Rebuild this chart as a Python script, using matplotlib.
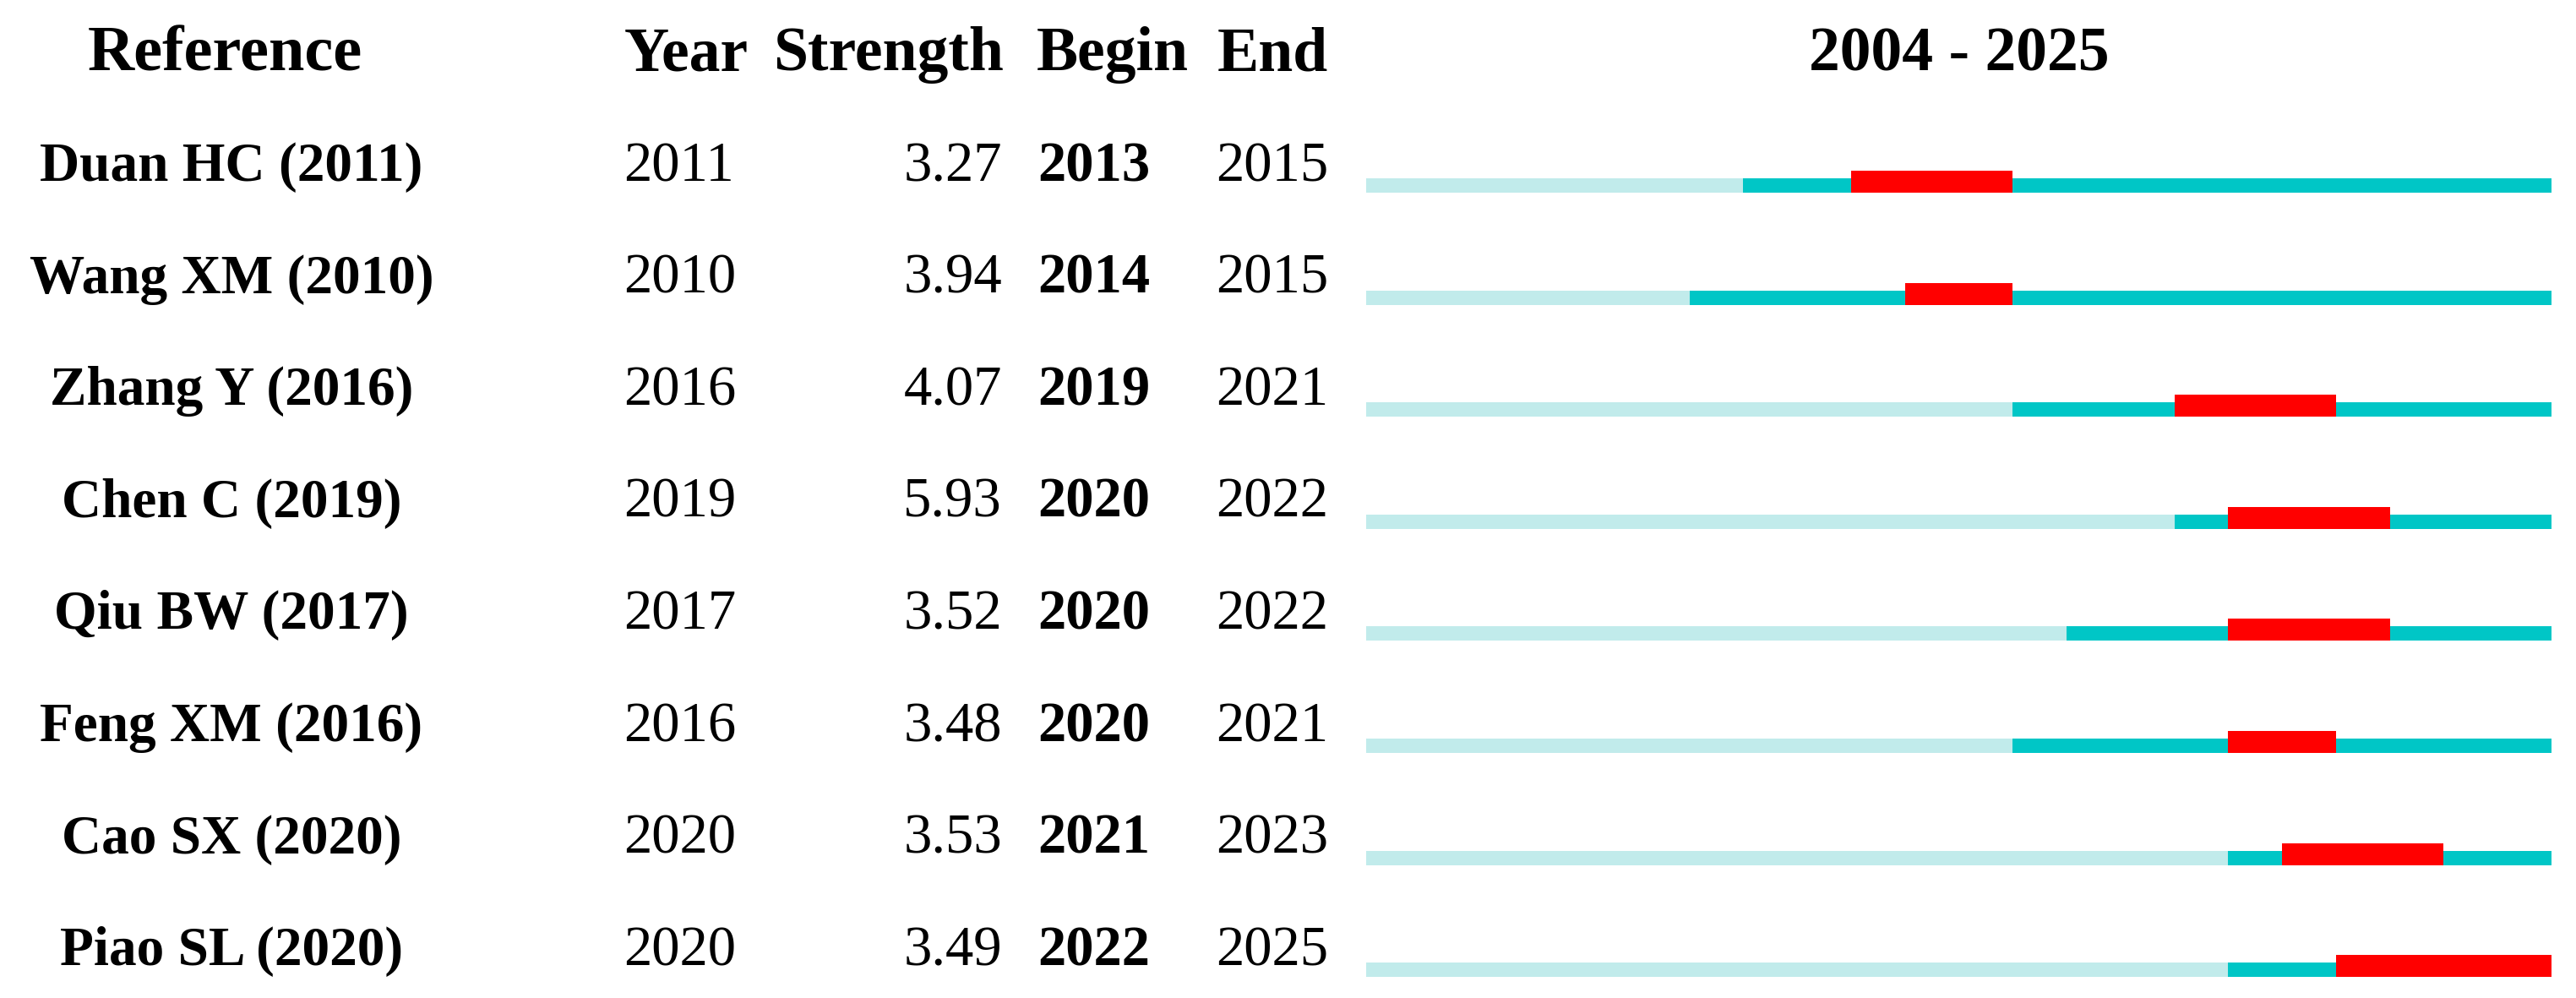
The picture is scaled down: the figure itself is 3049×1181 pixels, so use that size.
import matplotlib
matplotlib.use('Agg')
import matplotlib.pyplot as plt

# citation burst table, 2004 - 2025
refs = ['Duan HC (2011)', 'Wang XM (2010)', 'Zhang Y (2016)', 'Chen C (2019)',
        'Qiu BW (2017)', 'Feng XM (2016)', 'Cao SX (2020)', 'Piao SL (2020)']
years = [2011, 2010, 2016, 2019, 2017, 2016, 2020, 2020]
strength = [3.27, 3.94, 4.07, 5.93, 3.52, 3.48, 3.53, 3.49]
begin = [2013, 2014, 2019, 2020, 2020, 2020, 2021, 2022]
end = [2015, 2015, 2021, 2022, 2022, 2021, 2023, 2025]
first_year, last_year = 2004, 2025

W, H = 3049, 1181
fig = plt.figure(figsize=(W / 100, H / 100), dpi=100)
plt.rcParams['font.family'] = ['Liberation Serif', 'DejaVu Serif']

row_px = 132.6   # pixel distance between rows
top_px = 228     # bottom edge of first bar
y_top = -top_px / row_px
y_bot = (H - top_px) / row_px

ax = fig.add_axes([0, 0, 1, 1])
ax.set_xlim(0, W)
ax.set_ylim(y_bot, y_top)
ax.axis('off')

axb = fig.add_axes([1617 / W, 0, (3020 - 1617) / W, 1], sharey=ax)
axb.set_xlim(first_year, last_year + 1)
axb.axis('off')

light, teal, red = '#c1ebeb', '#00c6c6', '#ff0000'
h_thin = 17 / row_px
h_red = 26 / row_px

for i in range(len(refs)):
    axb.barh(i - h_thin, last_year + 1 - first_year, left=first_year, height=h_thin,
             align='edge', color=light, lw=0)
    axb.barh(i - h_thin, last_year + 1 - years[i], left=years[i], height=h_thin,
             align='edge', color=teal, lw=0)
    axb.barh(i - h_red, end[i] + 1 - begin[i], left=begin[i], height=h_red,
             align='edge', color=red, lw=0)

# header
hy = (83 - top_px) / row_px
hs = 53
ax.text(266, hy, 'Reference', ha='center', va='baseline', fontsize=55, fontweight='bold')
ax.text(739, hy, 'Year', ha='left', va='baseline', fontsize=hs, fontweight='bold')
ax.text(1188, hy, 'Strength', ha='right', va='baseline', fontsize=hs, fontweight='bold')
ax.text(1227, hy, 'Begin', ha='left', va='baseline', fontsize=hs, fontweight='bold')
ax.text(1441, hy, 'End', ha='left', va='baseline', fontsize=hs, fontweight='bold')
axb.text((first_year + last_year + 1) / 2, hy, '%d - %d' % (first_year, last_year),
         ha='center', va='baseline', fontsize=hs, fontweight='bold')

off = 14 / row_px
fs = 48
for i in range(len(refs)):
    y = i - off
    ax.text(274, y, refs[i], ha='center', va='baseline', fontsize=47, fontweight='bold')
    ax.text(738, y, str(years[i]), ha='left', va='baseline', fontsize=fs)
    ax.text(1186, y, '%.2f' % strength[i], ha='right', va='baseline', fontsize=fs)
    ax.text(1228, y, str(begin[i]), ha='left', va='baseline', fontsize=fs, fontweight='bold')
    ax.text(1439, y, str(end[i]), ha='left', va='baseline', fontsize=fs)

fig.savefig('out.png', dpi=100)
